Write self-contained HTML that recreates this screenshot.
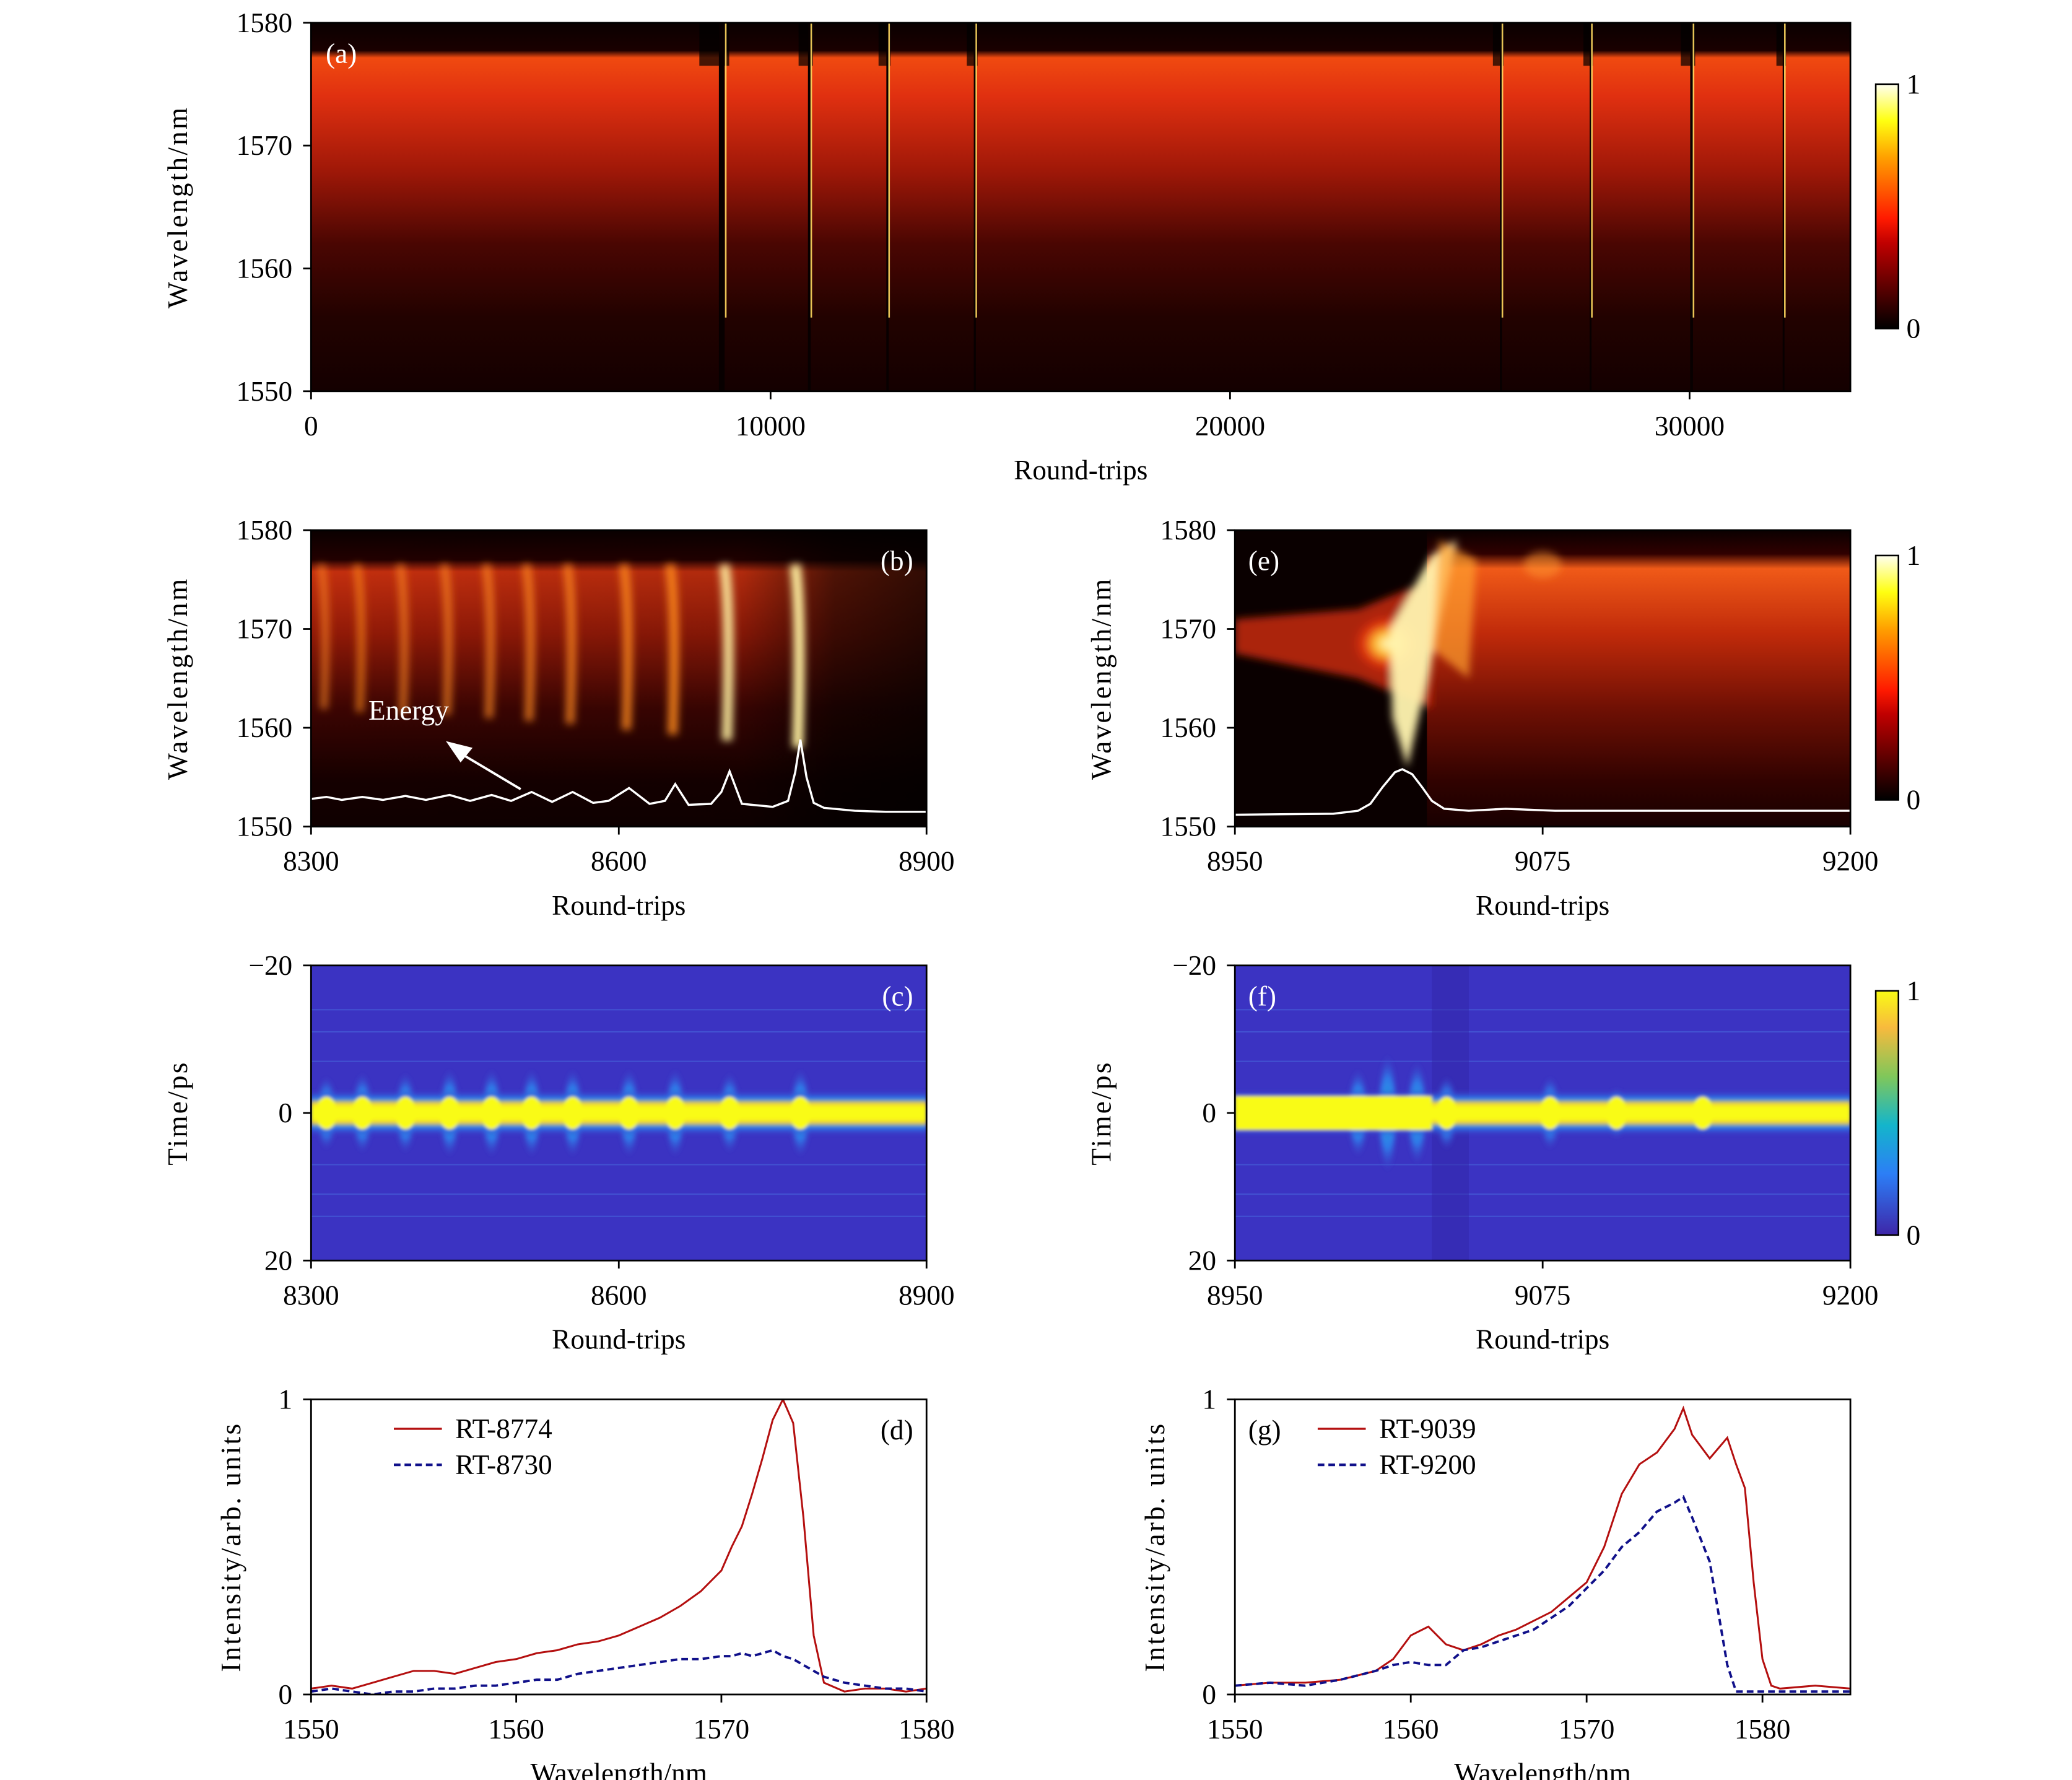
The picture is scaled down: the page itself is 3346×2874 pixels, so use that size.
<!DOCTYPE html>
<html><head><meta charset="utf-8">
<style>
html,body{margin:0;padding:0;background:#fff;}
svg{display:block;}
text{font-family:"Liberation Serif",serif;}
</style></head>
<body>
<svg id="fig" width="3346" height="2874" viewBox="0 0 1552 1333" xmlns="http://www.w3.org/2000/svg">
<defs>
<filter id="blur1" x="-10%" y="-10%" width="120%" height="120%"><feGaussianBlur stdDeviation="1.2"/></filter>
<filter id="blur3" x="-50%" y="-20%" width="200%" height="140%"><feGaussianBlur stdDeviation="3"/></filter>
<linearGradient id="hotbar" x1="0" y1="1" x2="0" y2="0">
<stop offset="0" stop-color="#000"/><stop offset="0.35" stop-color="#c00000"/><stop offset="0.45" stop-color="#ff1a00"/><stop offset="0.7" stop-color="#ffa000"/><stop offset="0.85" stop-color="#ffff10"/><stop offset="1" stop-color="#fffff0"/>
</linearGradient>
<linearGradient id="parbar" x1="0" y1="1" x2="0" y2="0">
<stop offset="0" stop-color="#3e26a8"/><stop offset="0.25" stop-color="#2c7ef6"/><stop offset="0.45" stop-color="#14b5cb"/><stop offset="0.65" stop-color="#80c75a"/><stop offset="0.85" stop-color="#f8ba3d"/><stop offset="1" stop-color="#f9fb15"/>
</linearGradient>
<linearGradient id="aGrad" x1="0" y1="0" x2="0" y2="1">
<stop offset="0" stop-color="#0a0000"/><stop offset="0.075" stop-color="#1a0000"/><stop offset="0.095" stop-color="#f04a10"/><stop offset="0.2" stop-color="#e03010"/><stop offset="0.4" stop-color="#a01808"/><stop offset="0.6" stop-color="#4a0602"/><stop offset="0.8" stop-color="#220200"/><stop offset="1" stop-color="#140000"/>
</linearGradient>
<linearGradient id="bGrad" x1="0" y1="0" x2="0" y2="1">
<stop offset="0" stop-color="#0a0000"/><stop offset="0.1" stop-color="#250000"/><stop offset="0.14" stop-color="#d83410"/><stop offset="0.35" stop-color="#a01c08"/><stop offset="0.6" stop-color="#420502"/><stop offset="0.85" stop-color="#160000"/><stop offset="1" stop-color="#100000"/>
</linearGradient>
<linearGradient id="bFade" x1="0" y1="0" x2="1" y2="0">
<stop offset="0" stop-color="#000" stop-opacity="0"/><stop offset="0.7" stop-color="#000" stop-opacity="0.1"/><stop offset="0.85" stop-color="#000" stop-opacity="0.6"/><stop offset="1" stop-color="#000" stop-opacity="0.75"/>
</linearGradient>
<linearGradient id="eGrad" x1="0" y1="0" x2="0" y2="1">
<stop offset="0" stop-color="#0a0000"/><stop offset="0.08" stop-color="#300000"/><stop offset="0.13" stop-color="#f05a18"/><stop offset="0.35" stop-color="#c02a0a"/><stop offset="0.6" stop-color="#701004"/><stop offset="0.85" stop-color="#300200"/><stop offset="1" stop-color="#180000"/>
</linearGradient>
<radialGradient id="eBlob" cx="0.5" cy="0.5" r="0.5">
<stop offset="0" stop-color="#ffffd0"/><stop offset="0.35" stop-color="#ffc030"/><stop offset="0.7" stop-color="#e03010"/><stop offset="1" stop-color="#e03010" stop-opacity="0"/>
</radialGradient>
<linearGradient id="band" x1="0" y1="0" x2="0" y2="1">
<stop offset="0" stop-color="#3b33c2" stop-opacity="0"/><stop offset="0.2" stop-color="#2a80ee"/><stop offset="0.3" stop-color="#f0d030"/><stop offset="0.38" stop-color="#f9fb15"/><stop offset="0.62" stop-color="#f9fb15"/><stop offset="0.7" stop-color="#f0d030"/><stop offset="0.8" stop-color="#2a80ee"/><stop offset="1" stop-color="#3b33c2" stop-opacity="0"/>
</linearGradient>
<radialGradient id="cyanBlob" cx="0.5" cy="0.5" r="0.5">
<stop offset="0" stop-color="#20b0e0"/><stop offset="0.6" stop-color="#3078e8"/><stop offset="1" stop-color="#3a40c8" stop-opacity="0"/>
</radialGradient>
<clipPath id="clipA"><rect x="233" y="17" width="1153" height="276"/></clipPath>
<clipPath id="clipB"><rect x="233" y="397" width="461" height="222"/></clipPath>
<clipPath id="clipE"><rect x="925" y="397" width="461" height="222"/></clipPath>
<clipPath id="clipC"><rect x="233" y="723" width="461" height="221"/></clipPath>
<clipPath id="clipF"><rect x="925" y="723" width="461" height="221"/></clipPath>
<clipPath id="clipD"><rect x="233" y="1048" width="461" height="221"/></clipPath>
<clipPath id="clipG"><rect x="925" y="1048" width="461" height="221"/></clipPath>
</defs>
<g id="root"></g>
</svg>
<script>
// ---------- data ----------
const aEventsRT = [8950, 10850, 12550, 14450, 25900, 27850, 30050, 32050];
const aEventsWidth = [250, 120, 100, 90, 90, 80, 120, 80];
const aXTicks = [0, 10000, 20000, 30000];
const wlTicks = [1550, 1560, 1570, 1580];
const bXTicks = [8300, 8600, 8900];
const eXTicks = [8950, 9075, 9200];
const timeTicks = [-20, 0, 20];
const timeTickLabels = ['\u221220', '0', '20'];
const bStreaksRT = [8315, 8350, 8392, 8435, 8476, 8515, 8555, 8610, 8655, 8708, 8777];
const bStreakLevel = [0.35, 0.4, 0.42, 0.45, 0.5, 0.55, 0.6, 0.7, 0.78, 0.88, 1.0];
const bEnergyRT = [8300,8315,8330,8350,8370,8392,8412,8435,8455,8476,8495,8515,8535,8555,8575,8590,8610,8630,8645,8655,8668,8690,8700,8708,8720,8750,8765,8772,8777,8783,8790,8800,8830,8860,8900];
const bEnergyWL = [1552.8,1553.0,1552.7,1553.0,1552.7,1553.1,1552.7,1553.2,1552.6,1553.2,1552.6,1553.5,1552.5,1553.5,1552.4,1552.6,1553.9,1552.3,1552.6,1554.3,1552.2,1552.3,1553.5,1555.6,1552.3,1552.0,1552.6,1555.5,1558.8,1555.0,1552.4,1551.9,1551.6,1551.5,1551.5];
const eEnergyRT = [8950,8990,9000,9005,9010,9015,9018,9022,9026,9030,9035,9045,9060,9080,9120,9200];
const eEnergyWL = [1551.2,1551.3,1551.6,1552.3,1554.0,1555.5,1555.8,1555.3,1554.0,1552.6,1551.8,1551.6,1551.8,1551.6,1551.6,1551.6];
const cBumpsRT = bStreaksRT;
const cBumpSize = [5, 5.5, 5.5, 6, 6, 6, 6, 6, 6, 5.5, 6];
const fBumpsRT = [9000, 9012, 9024, 9036, 9078, 9105, 9140];
const fBumpSize = [6, 8, 7, 5, 5, 3.5, 3];
const dWL = [1550,1551,1552,1553,1554,1555,1556,1557,1558,1559,1560,1561,1562,1563,1564,1565,1566,1567,1568,1569,1570,1570.5,1571,1571.5,1572,1572.5,1573,1573.5,1574,1574.5,1575,1576,1577,1578,1579,1580];
const dRed = [0.02,0.03,0.02,0.04,0.06,0.08,0.08,0.07,0.09,0.11,0.12,0.14,0.15,0.17,0.18,0.2,0.23,0.26,0.3,0.35,0.42,0.5,0.57,0.68,0.8,0.93,1.0,0.92,0.6,0.2,0.04,0.01,0.02,0.02,0.01,0.02];
const dBlue = [0.01,0.02,0.01,0.0,0.01,0.01,0.02,0.02,0.03,0.03,0.04,0.05,0.05,0.07,0.08,0.09,0.1,0.11,0.12,0.12,0.13,0.13,0.14,0.13,0.14,0.15,0.13,0.12,0.1,0.08,0.06,0.04,0.03,0.02,0.02,0.01];
const gWL = [1550,1552,1554,1556,1558,1559,1560,1561,1562,1563,1564,1565,1566,1567,1568,1569,1570,1571,1572,1573,1574,1575,1575.5,1576,1577,1578,1578.5,1579,1579.5,1580,1580.5,1581,1583,1585];
const gRed = [0.03,0.04,0.04,0.05,0.08,0.12,0.2,0.23,0.17,0.15,0.17,0.2,0.22,0.25,0.28,0.33,0.38,0.5,0.68,0.78,0.82,0.9,0.97,0.88,0.8,0.87,0.78,0.7,0.38,0.12,0.03,0.02,0.03,0.02];
const gBlue = [0.03,0.04,0.03,0.05,0.08,0.1,0.11,0.1,0.1,0.15,0.16,0.18,0.2,0.22,0.26,0.3,0.36,0.42,0.5,0.55,0.62,0.65,0.67,0.6,0.45,0.1,0.01,0.01,0.01,0.01,0.01,0.01,0.01,0.01];

// ---------- helpers ----------
const NS = 'http://www.w3.org/2000/svg';
const root = document.getElementById('root');
const FS = 21;
function mk(tag, attrs, parent) {
  const e = document.createElementNS(NS, tag);
  for (const k in attrs) e.setAttribute(k, attrs[k]);
  (parent || root).appendChild(e);
  return e;
}
function lin(d0, d1, r0, r1) { return v => r0 + (v - d0) / (d1 - d0) * (r1 - r0); }
function txt(x, y, s, size, anchor, fill, parent) {
  const t = mk('text', {x: x, y: y, 'font-size': size, 'text-anchor': anchor || 'middle', fill: fill || '#000'}, parent);
  t.textContent = s;
  return t;
}
function frame(p, name) {
  const r = mk('rect', {x: p.x0, y: p.y0, width: p.x1 - p.x0, height: p.y1 - p.y0, fill: 'none', stroke: '#000', 'stroke-width': 1.3});
  
  
}
function xAxis(p, sx, ticks, labels, title, name) {
  const g = mk('g', {});
  
  
  ticks.forEach((t, i) => {
    const x = sx(t);
    mk('line', {x1: x, y1: p.y1, x2: x, y2: p.y1 + 6, stroke: '#000', 'stroke-width': 1.3}, g);
    txt(x, p.y1 + 33, labels ? labels[i] : String(t), FS, 'middle', '#000', g);
  });
  const tt = txt((p.x0 + p.x1) / 2, p.y1 + 66, title, FS, 'middle', '#000', g);
  
  
}
function yAxis(p, sy, ticks, labels, title, name, titleX) {
  const g = mk('g', {});
  
  
  ticks.forEach((t, i) => {
    const y = sy(t);
    mk('line', {x1: p.x0 - 6, y1: y, x2: p.x0, y2: y, stroke: '#000', 'stroke-width': 1.3}, g);
    txt(p.x0 - 14, y + 7, labels ? labels[i] : String(t), FS, 'end', '#000', g);
  });
  const cy = (p.y0 + p.y1) / 2;
  const tt = mk('text', {x: titleX, y: cy, 'font-size': FS, 'text-anchor': 'middle', 'letter-spacing': 1.5, transform: 'rotate(-90 ' + titleX + ' ' + cy + ')'}, g);
  tt.textContent = title;
  
  
}
function colorbar(x, y0, y1, grad, name) {
  const g = mk('g', {});
  
  
  mk('rect', {x: x, y: y0, width: 17, height: y1 - y0, fill: 'url(#' + grad + ')', stroke: '#000', 'stroke-width': 1.2}, g);
  txt(x + 23, y0 + 7, '1', FS, 'start', '#000', g);
  txt(x + 23, y1 + 7, '0', FS, 'start', '#000', g);
}
function pathFrom(xs, ys, sx, sy) {
  return xs.map((v, i) => (i ? 'L' : 'M') + sx(v).toFixed(2) + ',' + sy(ys[i]).toFixed(2)).join('');
}

// ---------- panel (a) ----------
(function () {
  const p = {x0: 233, x1: 1386, y0: 17, y1: 293};
  const sx = lin(0, 33500, p.x0, p.x1), sy = lin(1550, 1580, p.y1, p.y0);
  const g = mk('g', {'clip-path': 'url(#clipA)'});
  
  
  mk('rect', {x: p.x0, y: p.y0, width: p.x1 - p.x0, height: p.y1 - p.y0, fill: 'url(#aGrad)'}, g);
  aEventsRT.forEach((rt, i) => {
    const x = sx(rt), w = sx(rt + aEventsWidth[i]) - x;
    const dark = mk('rect', {x: x - w * 2, y: p.y0, width: w * 2.6, height: sy(1576.5) - p.y0, fill: '#000', opacity: 0.7}, g);
    
    
    const gap = mk('rect', {x: x - w * 0.3, y: p.y0, width: w * 0.5, height: p.y1 - p.y0, fill: '#080000'}, g);
    
    
    const line = mk('line', {x1: x + w * 0.3, y1: sy(1580), x2: x + w * 0.3, y2: sy(1556), stroke: '#ffd860', 'stroke-width': 1.2, opacity: 0.9}, g);
    
    
  });
  frame(p, 'panel-a');
  xAxis(p, sx, aXTicks, null, 'Round-trips', 'panel-a');
  yAxis(p, sy, wlTicks, null, 'Wavelength/nm', 'panel-a', 140);
  const l = txt(244, 47, '(a)', FS, 'start', '#fff');
  
  
  colorbar(1405, 63, 246, 'hotbar', 'panel-a-colorbar');
})();

// ---------- panel (b) ----------
(function () {
  const p = {x0: 233, x1: 694, y0: 397, y1: 619};
  const sx = lin(8300, 8900, p.x0, p.x1), sy = lin(1550, 1580, p.y1, p.y0);
  const g = mk('g', {'clip-path': 'url(#clipB)'});
  
  
  mk('rect', {x: p.x0, y: p.y0, width: p.x1 - p.x0, height: p.y1 - p.y0, fill: '#080000'}, g);
  mk('rect', {x: p.x0, y: p.y0, width: p.x1 - p.x0, height: p.y1 - p.y0, fill: 'url(#bGrad)', opacity: 0.9}, g);
  mk('rect', {x: p.x0, y: p.y0, width: p.x1 - p.x0, height: p.y1 - p.y0, fill: 'url(#bFade)'}, g);
  const sg = mk('g', {filter: 'url(#blur3)'}, g);
  bStreaksRT.forEach((rt, i) => {
    const x = sx(rt), lv = bStreakLevel[i];
    const s = mk('path', {d: 'M' + (x - 4) + ',' + sy(1576.5) + ' Q' + (x + 1) + ',' + sy(1572) + ' ' + (x - 2) + ',' + sy(1558 + 6 * (1 - lv)), stroke: lv > 0.8 ? '#fff0a0' : '#ff8a20', 'stroke-width': 4 + 4 * lv, fill: 'none', opacity: 0.5 + 0.5 * lv}, sg);
    
    
  });
  const e = mk('path', {d: pathFrom(bEnergyRT, bEnergyWL, sx, sy), stroke: '#fff', 'stroke-width': 1.6, fill: 'none'}, g);
  
  
  const ar = mk('g', {});
  
  
  mk('line', {x1: 390, y1: 591, x2: 343, y2: 563, stroke: '#fff', 'stroke-width': 1.8}, ar);
  mk('polygon', {points: '334,555 354,560 345,571', fill: '#fff'}, ar);
  const et = txt(276, 539, 'Energy', FS, 'start', '#fff');
  
  
  frame(p, 'panel-b');
  xAxis(p, sx, bXTicks, null, 'Round-trips', 'panel-b');
  yAxis(p, sy, wlTicks, null, 'Wavelength/nm', 'panel-b', 140);
  const l = txt(684, 427, '(b)', FS, 'end', '#fff');
  
  
})();

// ---------- panel (e) ----------
(function () {
  const p = {x0: 925, x1: 1386, y0: 397, y1: 619};
  const sx = lin(8950, 9200, p.x0, p.x1), sy = lin(1550, 1580, p.y1, p.y0);
  const g = mk('g', {'clip-path': 'url(#clipE)'});
  
  
  mk('rect', {x: p.x0, y: p.y0, width: p.x1 - p.x0, height: p.y1 - p.y0, fill: '#0a0000'}, g);
  mk('rect', {x: sx(9028), y: p.y0, width: p.x1 - sx(9028), height: p.y1 - p.y0, fill: 'url(#eGrad)'}, g);
  const sg = mk('g', {filter: 'url(#blur3)'}, g);
  mk('path', {d: 'M' + sx(8950) + ',' + sy(1571) + ' L' + sx(9000) + ',' + sy(1572) + ' L' + sx(9030) + ',' + sy(1575) + ' L' + sx(9030) + ',' + sy(1562) + ' L' + sx(9000) + ',' + sy(1565) + ' L' + sx(8950) + ',' + sy(1567.5) + 'Z', fill: '#c82a0a', opacity: 0.85}, sg);
  mk('ellipse', {cx: sx(9012), cy: sy(1568.5), rx: 26, ry: 22, fill: 'url(#eBlob)'}, sg);
  mk('path', {d: 'M' + sx(9013) + ',' + sy(1570) + ' L' + sx(9030) + ',' + sy(1577.5) + ' L' + sx(9040) + ',' + sy(1579) + ' L' + sx(9030) + ',' + sy(1567) + ' L' + sx(9020) + ',' + sy(1556) + ' L' + sx(9014) + ',' + sy(1561) + 'Z', fill: '#fff4b0', opacity: 0.95}, sg);
  mk('path', {d: 'M' + sx(9033) + ',' + sy(1579) + ' L' + sx(9048) + ',' + sy(1577) + ' L' + sx(9045) + ',' + sy(1565) + ' L' + sx(9030) + ',' + sy(1568) + 'Z', fill: '#ffa030', opacity: 0.7}, sg);
  mk('ellipse', {cx: sx(9075), cy: sy(1576.5), rx: 14, ry: 10, fill: '#ff9a30', opacity: 0.5}, sg);
  const e = mk('path', {d: pathFrom(eEnergyRT, eEnergyWL, sx, sy), stroke: '#fff', 'stroke-width': 1.6, fill: 'none'}, g);
  
  
  frame(p, 'panel-e');
  xAxis(p, sx, eXTicks, null, 'Round-trips', 'panel-e');
  yAxis(p, sy, wlTicks, null, 'Wavelength/nm', 'panel-e', 832);
  const l = txt(935, 427, '(e)', FS, 'start', '#fff');
  
  
  colorbar(1405, 416, 599, 'hotbar', 'panel-e-colorbar');
})();

// ---------- panels (c) (f) ----------
function timePanel(p, d0, d1, xticks, bumps, sizes, name, label, labelRight, clip, titleX) {
  const sx = lin(d0, d1, p.x0, p.x1), sy = lin(-20, 20, p.y0, p.y1);
  const outer = mk('g', {'clip-path': 'url(#' + clip + ')'});
  
  
  mk('rect', {x: p.x0, y: p.y0, width: p.x1 - p.x0, height: p.y1 - p.y0, fill: '#3b33c2'}, outer);
  [-14, -11, -7, 7, 11, 14].forEach(t => {
    mk('line', {x1: p.x0, y1: sy(t), x2: p.x1, y2: sy(t), stroke: '#4a70e0', 'stroke-width': 1, opacity: 0.5}, outer);
  });
  const g = mk('g', {filter: 'url(#blur1)'}, outer);
  bumps.forEach((rt, i) => {
    const b = mk('ellipse', {cx: sx(rt), cy: sy(0), rx: 9, ry: sy(sizes[i]) - sy(0), fill: 'url(#cyanBlob)'}, g);
    
    
  });
  mk('rect', {x: p.x0, y: sy(-3.2), width: p.x1 - p.x0, height: sy(3.2) - sy(-3.2), fill: 'url(#band)'}, g);
  bumps.forEach((rt, i) => {
    mk('ellipse', {cx: sx(rt), cy: sy(0), rx: 8, ry: sy(2.2) - sy(0), fill: '#f9fb15'}, g);
  });
  frame(p, name);
  xAxis(p, sx, xticks, null, 'Round-trips', name);
  yAxis(p, sy, timeTicks, timeTickLabels, 'Time/ps', name, titleX);
  const l = txt(labelRight ? p.x1 - 10 : p.x0 + 10, p.y0 + 30, label, FS, labelRight ? 'end' : 'start', '#fff');
  
  
  return {sx: sx, sy: sy, g: g, outer: outer};
}
timePanel({x0: 233, x1: 694, y0: 723, y1: 944}, 8300, 8900, bXTicks, cBumpsRT, cBumpSize, 'panel-c', '(c)', true, 'clipC', 140);
(function () {
  const p = {x0: 925, x1: 1386, y0: 723, y1: 944};
  const r = timePanel(p, 8950, 9200, eXTicks, fBumpsRT, fBumpSize, 'panel-f', '(f)', false, 'clipF', 832);
  const s = mk('rect', {x: r.sx(9030), y: p.y0, width: r.sx(9045) - r.sx(9030), height: p.y1 - p.y0, fill: '#3226a8', opacity: 0.5});
  r.outer.insertBefore(s, r.g);
  
  
  const thick = mk('rect', {x: p.x0, y: r.sy(-2.3), width: r.sx(9030) - p.x0, height: r.sy(2.3) - r.sy(-2.3), fill: '#f9fb15'}, r.g);
  
  
  colorbar(1405, 742, 925, 'parbar', 'panel-f-colorbar');
})();

// ---------- panels (d) (g) ----------
function specPanel(p, w0, w1, xticks, xs, red, blue, names, name, label, labelRight, clip, titleX) {
  const sx = lin(w0, w1, p.x0, p.x1), sy = lin(0, 1, p.y1, p.y0);
  const g = mk('g', {'clip-path': 'url(#' + clip + ')'});
  const r = mk('path', {d: pathFrom(xs, red, sx, sy), stroke: '#b40f0f', 'stroke-width': 1.4, fill: 'none'}, g);
  
  
  const b = mk('path', {d: pathFrom(xs, blue, sx, sy), stroke: '#10108a', 'stroke-width': 1.8, 'stroke-dasharray': '5,3', fill: 'none'}, g);
  
  
  frame(p, name);
  xAxis(p, sx, xticks, null, 'Wavelength/nm', name);
  yAxis(p, sy, [0, 1], null, 'Intensity/arb. units', name, titleX);
  const lg = mk('g', {});
  
  
  const lx = p.x0 + 62;
  mk('line', {x1: lx, y1: p.y0 + 22, x2: lx + 36, y2: p.y0 + 22, stroke: '#b40f0f', 'stroke-width': 1.6}, lg);
  txt(lx + 46, p.y0 + 29, names[0], FS, 'start', '#000', lg);
  mk('line', {x1: lx, y1: p.y0 + 49, x2: lx + 36, y2: p.y0 + 49, stroke: '#10108a', 'stroke-width': 2, 'stroke-dasharray': '5,3'}, lg);
  txt(lx + 46, p.y0 + 56, names[1], FS, 'start', '#000', lg);
  const l = txt(labelRight ? p.x1 - 10 : p.x0 + 10, p.y0 + 30, label, FS, labelRight ? 'end' : 'start', '#000');
  
  
}
specPanel({x0: 233, x1: 694, y0: 1048, y1: 1269}, 1550, 1580, wlTicks, dWL, dRed, dBlue, ['RT-8774', 'RT-8730'], 'panel-d', '(d)', true, 'clipD', 180);
specPanel({x0: 925, x1: 1386, y0: 1048, y1: 1269}, 1550, 1585, wlTicks, gWL, gRed, gBlue, ['RT-9039', 'RT-9200'], 'panel-g', '(g)', false, 'clipG', 872);
</script>
</body></html>
